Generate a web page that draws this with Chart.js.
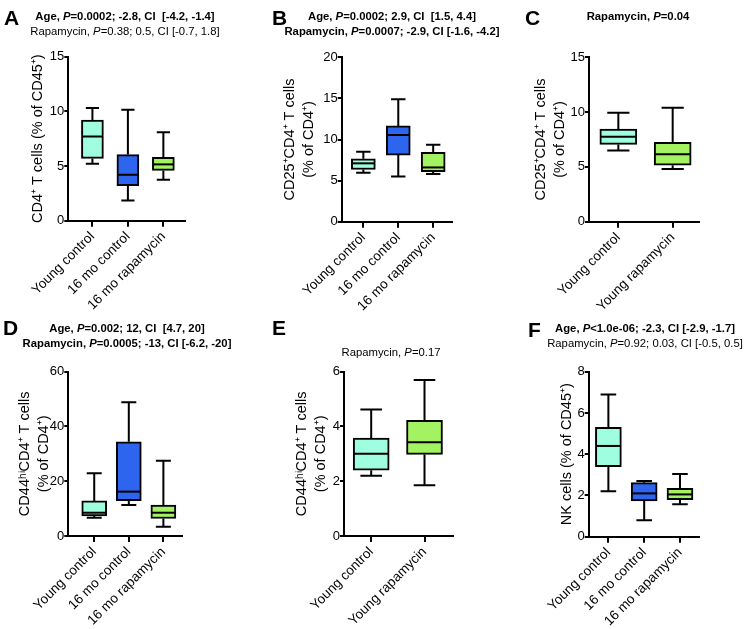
<!DOCTYPE html>
<html>
<head>
<meta charset="utf-8">
<script src="https://cdn.jsdelivr.net/npm/chart.js@4"></script>
<style>
body { margin: 0; background: #fff; font-family: "Liberation Sans", Arial, sans-serif; }
#fig { position: relative; width: 748px; height: 629px; overflow: hidden; }
canvas { position: absolute; }
.tag { position: absolute; font-weight: bold; font-size: 21px; line-height: 21px; }
.ttl { position: absolute; font-size: 11.3px; line-height: 14.5px; text-align: center; white-space: nowrap; transform: translateX(-50%); }
</style>
</head>
<body>
<div id="fig">
  <canvas id="cA" width="240" height="314" style="left:0;top:0"></canvas>
  <canvas id="cB" width="250" height="314" style="left:240px;top:0"></canvas>
  <canvas id="cC" width="258" height="314" style="left:490px;top:0"></canvas>
  <canvas id="cD" width="240" height="315" style="left:0;top:314px"></canvas>
  <canvas id="cE" width="250" height="315" style="left:240px;top:314px"></canvas>
  <canvas id="cF" width="258" height="315" style="left:490px;top:314px"></canvas>

  <div class="tag" style="left:4px;top:7px">A</div>
  <div class="tag" style="left:272px;top:7px">B</div>
  <div class="tag" style="left:525px;top:7px">C</div>
  <div class="tag" style="left:3px;top:317px">D</div>
  <div class="tag" style="left:272px;top:317px">E</div>
  <div class="tag" style="left:528px;top:319px">F</div>

  <div class="ttl" style="left:125px;top:9px"><b>Age, <i>P</i>=0.0002; -2.8, CI &nbsp;[-4.2, -1.4]</b><br>Rapamycin, <i>P</i>=0.38; 0.5, CI [-0.7, 1.8]</div>
  <div class="ttl" style="left:392px;top:9px"><b>Age, <i>P</i>=0.0002; 2.9, CI &nbsp;[1.5, 4.4]<br>Rapamycin, <i>P</i>=0.0007; -2.9, CI [-1.6, -4.2]</b></div>
  <div class="ttl" style="left:638px;top:9px"><b>Rapamycin, <i>P</i>=0.04</b></div>
  <div class="ttl" style="left:127px;top:321px"><b>Age, <i>P</i>=0.002; 12, CI &nbsp;[4.7, 20]<br>Rapamycin, <i>P</i>=0.0005; -13, CI [-6.2, -20]</b></div>
  <div class="ttl" style="left:391px;top:345px">Rapamycin, <i>P</i>=0.17</div>
  <div class="ttl" style="left:645px;top:321px"><b>Age, <i>P</i>&lt;1.0e-06; -2.3, CI [-2.9, -1.7]</b><br>Rapamycin, <i>P</i>=0.92; 0.03, CI [-0.5, 0.5]</div>
</div>

<script>
// group names and fills
const cats3 = ['Young control', '16 mo control', '16 mo rapamycin'];
const cats2 = ['Young control', 'Young rapamycin'];
const fills3 = ['#9ffde0', '#2d65ee', '#a3f261'];
const fills2 = ['#9ffde0', '#a3f261'];

// A - CD4+ T cells (% of CD45+)
const minA = [5.2, 1.85, 3.75];
const q1A  = [5.7, 3.2, 4.6];
const medA = [7.7, 4.2, 5.15];
const q3A  = [9.2, 6.05, 5.8];
const maxA = [10.3, 10.15, 8.1];
const yTicksA = [0, 5, 10, 15];

// B - CD25+CD4+ T cells (% of CD4+)
const minB = [5.95, 5.5, 5.8];
const q1B  = [6.35, 8.1, 6.1];
const medB = [7.1, 10.55, 6.6];
const q3B  = [7.65, 11.65, 8.45];
const maxB = [8.5, 14.9, 9.35];
const yTicksB = [0, 5, 10, 15, 20];

// C - CD25+CD4+ T cells, young mice
const minC = [6.5, 4.8];
const q1C  = [7.05, 5.15];
const medC = [7.75, 6.15];
const q3C  = [8.45, 7.25];
const maxC = [9.95, 10.4];
const yTicksC = [0, 5, 10, 15];

// D - CD44hiCD4+ T cells (% of CD4+)
const minD = [6.7, 11.3, 3.4];
const q1D  = [7.3, 12.9, 6.4];
const medD = [8.5, 16.2, 8.5];
const q3D  = [12.8, 34.4, 11.3];
const maxD = [22.9, 48.8, 27.5];
const yTicksD = [0, 20, 40, 60];

// E - CD44hiCD4+ T cells, young mice
const minE = [2.2, 1.85];
const q1E  = [2.4, 2.98];
const medE = [3.0, 3.42];
const q3E  = [3.58, 4.22];
const maxE = [4.62, 5.7];
const yTicksE = [0, 2, 4, 6];

// F - NK cells (% of CD45+)
const minF = [2.2, 0.8, 1.57];
const q1F  = [3.4, 1.74, 1.8];
const medF = [4.4, 2.1, 2.05];
const q3F  = [5.3, 2.62, 2.34];
const maxF = [6.9, 2.7, 3.04];
const yTicksF = [0, 2, 4, 6, 8];

// panel layout: canvas box + wanted plot area (page pixels)
const panels = [
  { id: 'cA', cats: cats3, fills: fills3, min: minA, q1: q1A, med: medA, q3: q3A, max: maxA, yTicks: yTicksA,
    yTitle: ['CD4⁺ T cells (% of CD45⁺)'], box: [0, 0, 240, 314], area: [68.3, 56.7, 185, 220.7], xr: [-0.68, 2.61], bw: 22, titleX: 38 },
  { id: 'cB', cats: cats3, fills: fills3, min: minB, q1: q1B, med: medB, q3: q3B, max: maxB, yTicks: yTicksB,
    yTitle: ['CD25⁺CD4⁺ T cells', '(% of CD4⁺)'], box: [240, 0, 250, 314], area: [341.7, 57.3, 451.7, 221.7], xr: [-0.62, 2.53], bw: 24, titleX: 290 },
  { id: 'cC', cats: cats2, fills: fills2, min: minC, q1: q1C, med: medC, q3: q3C, max: maxC, yTicks: yTicksC,
    yTitle: ['CD25⁺CD4⁺ T cells', '(% of CD4⁺)'], box: [490, 0, 258, 314], area: [589, 57.3, 699.3, 221.7], xr: [-0.54, 1.49], bw: 37, titleX: 541 },
  { id: 'cD', cats: cats3, fills: fills3, min: minD, q1: q1D, med: medD, q3: q3D, max: maxD, yTicks: yTicksD,
    yTitle: ['CD44ʰⁱCD4⁺ T cells', '(% of CD4⁺)'], box: [0, 314, 240, 315], area: [68.3, 371.7, 181.7, 536], xr: [-0.75, 2.53], bw: 25, titleX: 25 },
  { id: 'cE', cats: cats2, fills: fills2, min: minE, q1: q1E, med: medE, q3: q3E, max: maxE, yTicks: yTicksE,
    yTitle: ['CD44ʰⁱCD4⁺ T cells', '(% of CD4⁺)'], box: [240, 314, 250, 315], area: [344, 371.7, 453.3, 536], xr: [-0.51, 1.54], bw: 36, titleX: 302 },
  { id: 'cF', cats: cats3, fills: fills3, min: minF, q1: q1F, med: medF, q3: q3F, max: maxF, yTicks: yTicksF,
    yTitle: ['NK cells (% of CD45⁺)'], box: [490, 314, 258, 315], area: [588.7, 371.7, 699.3, 536.7], xr: [-0.55, 2.54], bw: 26, titleX: 567 },
];

const FONT = '"Liberation Sans", Arial, sans-serif';
const TITLE_SIZE = 14.5, TITLE_LH = 1.33;

// whiskers + medians on top of the floating bars
function boxPlugin(p) {
  return {
    id: 'whiskers',
    beforeDatasetsDraw(chart) {
      const { ctx, scales: { x, y } } = chart;
      const cap = p.bw * 0.3;
      ctx.save();
      ctx.strokeStyle = '#000';
      ctx.lineWidth = 2;
      p.cats.forEach((c, i) => {
        const cx = x.getPixelForValue(i);
        const yMin = y.getPixelForValue(p.min[i]), yMax = y.getPixelForValue(p.max[i]);
        ctx.beginPath();
        ctx.moveTo(cx, yMin); ctx.lineTo(cx, y.getPixelForValue(p.q1[i]));
        ctx.moveTo(cx, y.getPixelForValue(p.q3[i])); ctx.lineTo(cx, yMax);
        ctx.moveTo(cx - cap, yMin); ctx.lineTo(cx + cap, yMin);
        ctx.moveTo(cx - cap, yMax); ctx.lineTo(cx + cap, yMax);
        ctx.stroke();
      });
      ctx.restore();
    },
    afterDatasetsDraw(chart) {
      const { ctx, scales: { x, y } } = chart;
      ctx.save();
      ctx.strokeStyle = '#000';
      ctx.lineWidth = 2;
      p.cats.forEach((c, i) => {
        const cx = x.getPixelForValue(i);
        const ym = y.getPixelForValue(p.med[i]);
        ctx.beginPath();
        ctx.moveTo(cx - p.bw / 2 + 1, ym); ctx.lineTo(cx + p.bw / 2 - 1, ym);
        ctx.stroke();
      });
      ctx.restore();
    }
  };
}

function makePanel(p) {
  const [cl, ct, cw, ch] = p.box;
  const [al, at, ar, ab] = p.area;
  const lh = TITLE_SIZE * TITLE_LH;
  new Chart(document.getElementById(p.id), {
    type: 'bar',
    data: {
      datasets: [{
        data: p.cats.map((c, i) => ({ x: i, y: [p.q1[i], p.q3[i]] })),
        backgroundColor: p.fills,
        borderColor: '#000',
        borderWidth: 2,
        borderSkipped: false,
        barThickness: p.bw,
      }]
    },
    options: {
      responsive: false,
      animation: false,
      layout: { padding: { left: 0, top: at - ct, right: cl + cw - ar, bottom: 0 } },
      plugins: { legend: { display: false }, tooltip: { enabled: false } },
      scales: {
        x: {
          type: 'linear',
          offset: false,
          min: p.xr[0],
          max: p.xr[1],
          afterBuildTicks: s => { s.ticks = p.cats.map((c, i) => ({ value: i })); },
          afterFit: s => { s.height = ct + ch - ab; },
          ticks: {
            autoSkip: false,
            maxRotation: 45,
            minRotation: 45,
            padding: 2,
            color: '#000',
            font: { family: FONT, size: 13.5 },
            callback: v => p.cats[Math.round(v)]
          },
          grid: { offset: false, drawOnChartArea: false, drawTicks: true, tickLength: 6, color: '#000', lineWidth: 2 },
          border: { display: true, color: '#000', width: 2 }
        },
        y: {
          min: p.yTicks[0],
          max: p.yTicks[p.yTicks.length - 1],
          afterBuildTicks: s => { s.ticks = p.yTicks.map(v => ({ value: v })); },
          afterFit: s => { s.width = al - cl; },
          ticks: { padding: 0, color: '#000', font: { family: FONT, size: 13 } },
          grid: { drawOnChartArea: false, drawTicks: true, tickLength: 4, color: '#000', lineWidth: 2 },
          border: { display: true, color: '#000', width: 2 },
          title: {
            display: true,
            text: p.yTitle,
            color: '#000',
            font: { family: FONT, size: TITLE_SIZE, lineHeight: TITLE_LH },
            padding: { top: p.titleX - cl - lh / 2, bottom: 0 }
          }
        }
      }
    },
    plugins: [boxPlugin(p)]
  });
}

panels.forEach(makePanel);
</script>
</body>
</html>
